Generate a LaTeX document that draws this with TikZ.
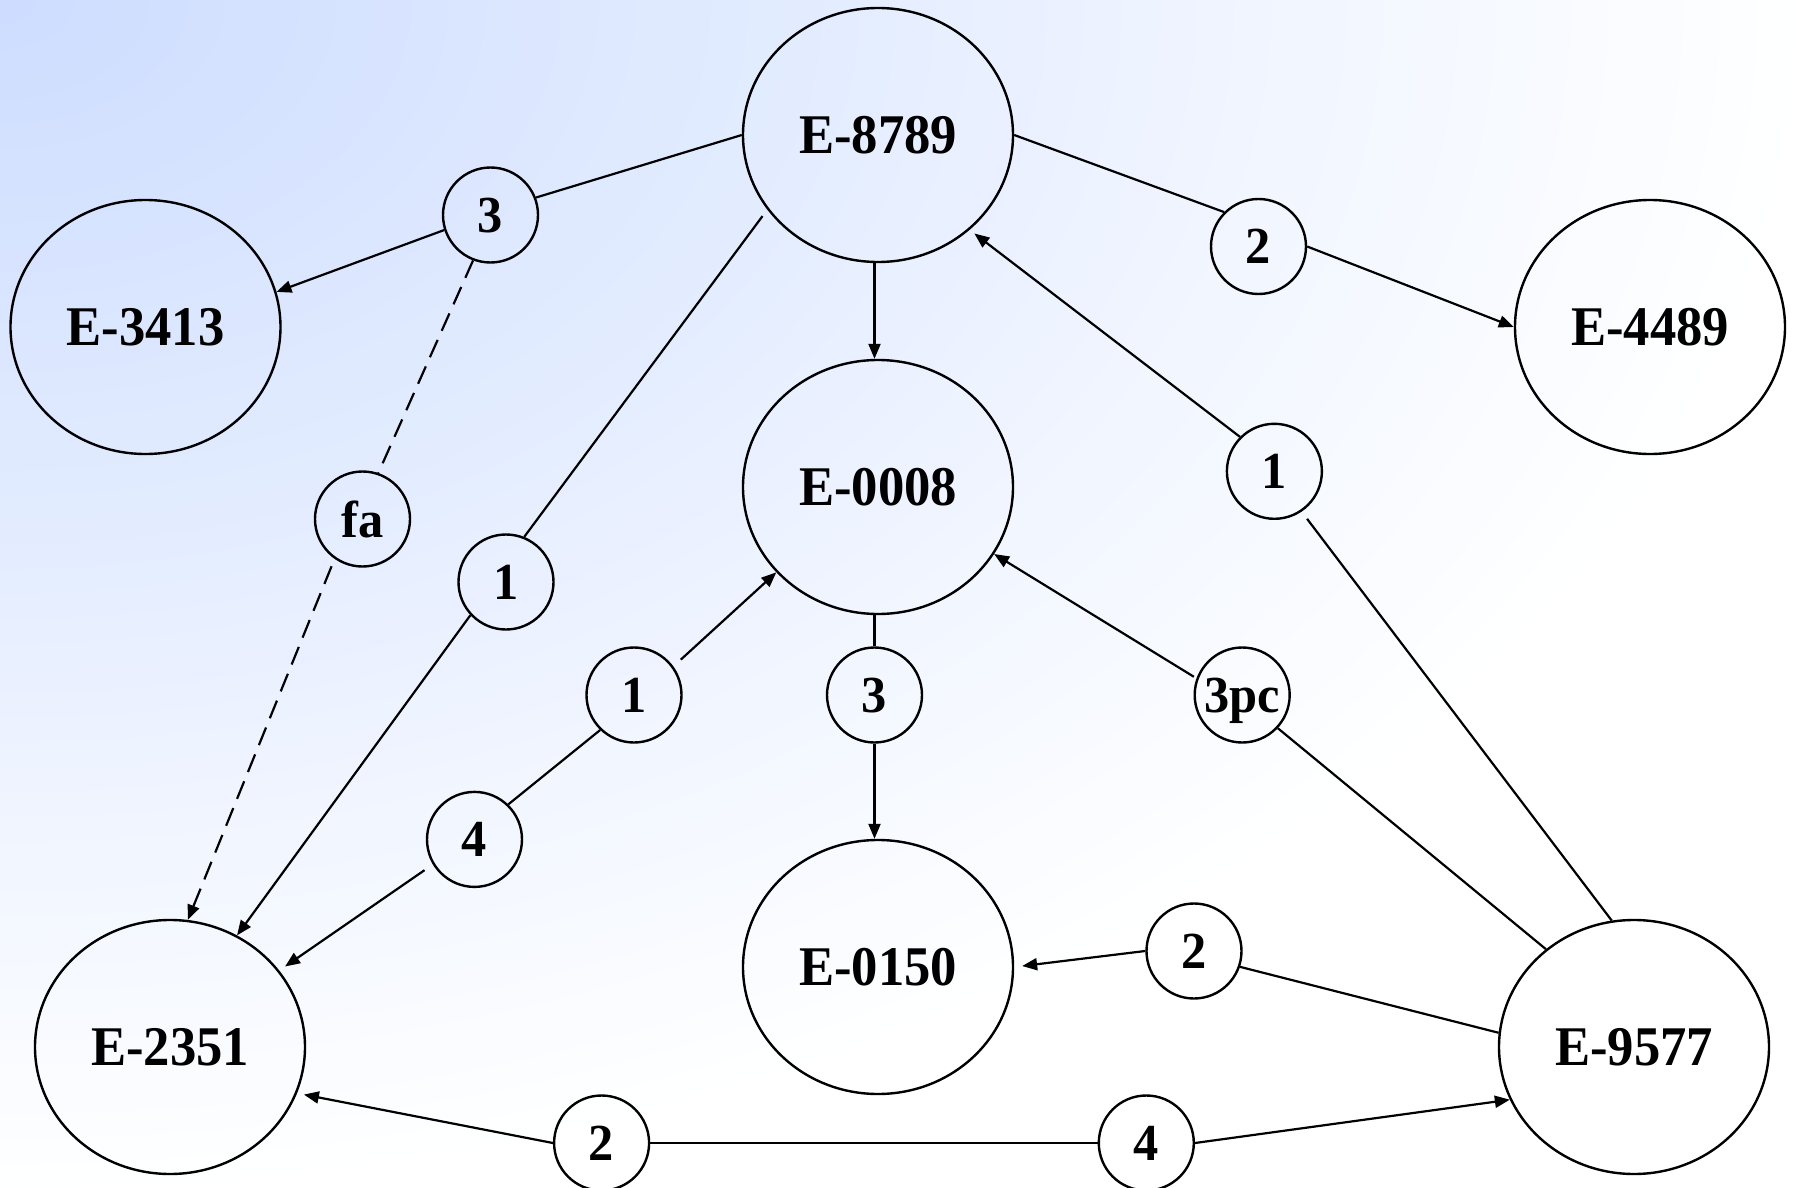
\documentclass[tikz,border=0pt]{standalone}
\usepackage{fontspec}
\setmainfont{Liberation Serif}
\newfontfamily\bigf{Liberation Serif}[FakeStretch=0.94]
\newfontfamily\smallf{Liberation Serif}[FakeStretch=0.97]
\usetikzlibrary{shapes.geometric,arrows.meta}
\definecolor{bgblue}{RGB}{205,221,255}
\tikzset{
  bignode/.style={ellipse, draw, line width=1.2pt, minimum width=135pt, minimum height=127pt, inner sep=0pt,
    font=\bigf\bfseries\fontsize{28}{30}\selectfont},
  lab/.style={circle, draw, line width=1.2pt, minimum size=47.5pt, inner sep=0pt, text depth=0pt,
    font=\smallf\bfseries\fontsize{26}{28}\selectfont},
  edge/.style={line width=1.1pt},
  arr/.style={edge, -{Triangle[length=7.5pt,width=6pt]}},
  dsh/.style={dash pattern=on 9.5pt off 5pt}
}
\begin{document}
\begin{tikzpicture}[x=0.5pt,y=-0.5pt]
\useasboundingbox (0,0) rectangle (1795,1188);
% background
\begin{scope}
  \clip (0,0) rectangle (1795,1188);
  \fill[white] (0,0) rectangle (1795,1188);
  \foreach \i in {48,47,...,1} {
    \pgfmathsetmacro\pp{100*(1-(\i-0.5)/48)}
    \fill[bgblue!\pp!white] (0,0) ellipse [x radius=\i/48*897.5pt, y radius=\i/48*594pt];
  }
\end{scope}
% main nodes
\node[bignode] (E8789) at (878,135) {E-8789};
\node[bignode] (E3413) at (145.5,327) {E-3413};
\node[bignode] (E4489) at (1650,327) {E-4489};
\node[bignode] (E0008) at (878,487) {E-0008};
\node[bignode] (E0150) at (878,967) {E-0150};
\node[bignode] (E2351) at (170,1047) {E-2351};
\node[bignode] (E9577) at (1634,1047) {E-9577};
% label nodes
\node[lab] (t3) at (490.5,215) {3};
\node[lab] (t2) at (1258.5,246.5) {2};
\node[lab] (fa) at (362.5,519) {fa};
\node[lab] (l1) at (506,582) {1};
\node[lab] (r1) at (1274.4,471.3) {1};
\node[lab] (m1) at (634,695) {1};
\node[lab] (m3) at (874.5,695) {3};
\node[lab] (pc) at (1242.2,695) {3pc};
\node[lab] (f4) at (474.5,839.4) {4};
\node[lab] (r2) at (1194,951) {2};
\node[lab] (b2) at (601.6,1143) {2};
\node[lab] (b4) at (1146.3,1143) {4};
% connectors
\draw[edge] (E8789.west) -- (t3.21);
\draw[arr] (t3.198) -- (E3413.15);
\draw[edge,dsh] (t3.249) -- (fa.71);
\draw[arr,dsh,shorten <=4pt] (fa.235) -- (E2351.82);
\draw[edge,shorten <=4pt] (E8789.214) -- (l1.68);
\draw[arr] (l1.223) -- (E2351.59);
\draw[arr] ([xshift=-1.75pt]E8789.south) -- ([xshift=-1.75pt]E0008.north);
\draw[edge] (E8789.east) -- (t2.135);
\draw[arr] (t2.east) -- (E4489.west);
\draw[edge,shorten >=4.5pt] (E9577.100) -- (r1.304);
\draw[arr,shorten >=3pt] (r1.135) -- (E8789.314);
\draw[edge] ([xshift=-1.75pt]E0008.south) -- (m3.north);
\draw[arr] (m3.south) -- ([xshift=-1.75pt]E0150.north);
\draw[edge] (E9577.132) -- (pc.317);
\draw[arr,shorten <=1.5pt] (pc.160) -- (E0008.330);
\draw[edge] (f4.46) -- (m1.226);
\draw[arr,shorten <=5pt] (m1.36) -- (E0008.220);
\draw[arr,shorten <=5pt,shorten >=3.5pt] (f4.211) -- (E2351.35);
\draw[edge] (E9577.174) -- (r2.341);
\draw[arr,shorten >=4pt] (r2.west) -- (E0150.east);
\draw[arr,shorten >=3.5pt] (b2.west) -- (E2351.340);
\draw[edge] (b2.east) -- (b4.west);
\draw[arr] (b4.east) -- (E9577.203);
\end{tikzpicture}
\end{document}
